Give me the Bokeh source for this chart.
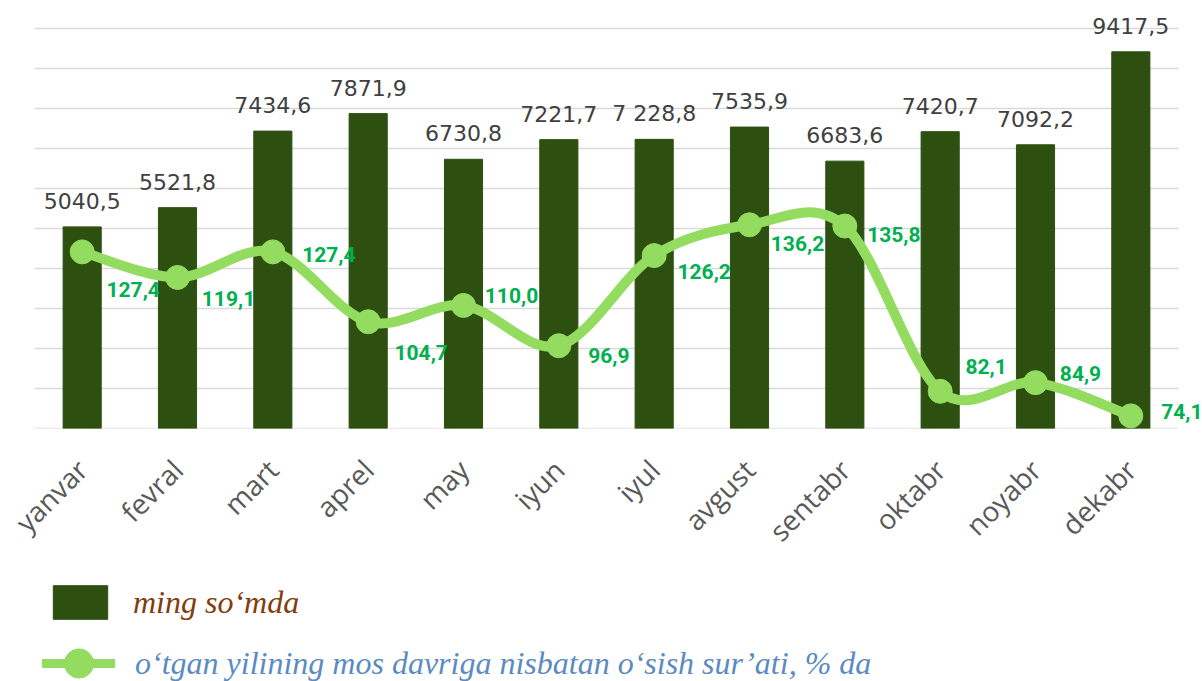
import math
import numpy as np
from bokeh.plotting import figure
from bokeh.layouts import column
from bokeh.core.properties import value
from bokeh.models import (Range1d, FixedTicker, LabelSet, ColumnDataSource,
                          Legend, LegendItem)
from bokeh.embed import file_html
from bokeh.resources import INLINE

# ---------------- data ----------------
months = ["yanvar", "fevral", "mart", "aprel", "may", "iyun",
          "iyul", "avgust", "sentabr", "oktabr", "noyabr", "dekabr"]
amount = [5040.5, 5521.8, 7434.6, 7871.9, 6730.8, 7221.7,
          7228.8, 7535.9, 6683.6, 7420.7, 7092.2, 9417.5]
amount_labels = ["5040,5", "5521,8", "7434,6", "7871,9", "6730,8", "7221,7",
                 "7 228,8", "7535,9", "6683,6", "7420,7", "7092,2", "9417,5"]
growth = [127.4, 119.1, 127.4, 104.7, 110.0, 96.9,
          126.2, 136.2, 135.8, 82.1, 84.9, 74.1]
growth_labels = ["127,4", "119,1", "127,4", "104,7", "110,0", "96,9",
                 "126,2", "136,2", "135,8", "82,1", "84,9", "74,1"]
series_names = ["ming so\u2018mda",
                "o\u2018tgan yilining mos davriga nisbatan o\u2018sish sur\u2019ati, % da"]

# axis extents
Y_MAX, Y_STEP = 10000, 1000
P_MIN, P_MAX = 70, 200
grid_values = list(range(0, Y_MAX + 1, Y_STEP))

# label placement (screen px offsets, style only)
g_dx = [51, 51, 56, 53, 48, 50, 50, 48, 49, 46, 45, 51]
g_dy = [-38, -21, -3, -31, 10, -10, -16, -19, -8, 25, 9, 4]

BAR = "#2D5011"
LINE = "#93DC5F"
GRID = "#D9D9D9"

# layout (px)
W = 1202
FRAME_DATA_H = 400          # height of the 0..Y_MAX area
PAD_TOP = 16                # room above Y_MAX for value labels
SLOT = 1144 / 12            # width of one category
PAD_RIGHT = 24              # room right of the last category
H1, H2 = 568, 113

n = len(months)
x = np.arange(n)
y_top = Y_MAX * (1 + PAD_TOP / FRAME_DATA_H)
p_top = P_MAX + (P_MAX - P_MIN) * PAD_TOP / FRAME_DATA_H

p = figure(width=W, height=H1, output_backend="svg", toolbar_location=None,
           x_range=Range1d(-0.5, n - 0.5 + PAD_RIGHT / SLOT),
           y_range=Range1d(0, y_top),
           min_border_left=34, min_border_right=0, min_border_top=12,
           min_border_bottom=140)
p.outline_line_color = None
p.background_fill_color = "white"
p.extra_y_ranges = {"pct": Range1d(P_MIN, p_top)}

p.xgrid.visible = False
p.ygrid.visible = False
p.yaxis.visible = False

ax = p.xaxis[0]
ax.ticker = FixedTicker(ticks=list(range(n)))
ax.major_label_overrides = {i: m for i, m in enumerate(months)}
ax.major_label_orientation = math.pi / 4
ax.axis_line_color = None
ax.major_tick_line_color = None
ax.minor_tick_line_color = None
ax.major_tick_out = 0
ax.major_label_text_font = "Open Sans"
ax.major_label_text_font_size = "28px"
ax.major_label_text_color = "#595959"
ax.major_label_standoff = 36

# horizontal gridlines spanning the category area only
p.segment(x0=-0.5, x1=n - 0.5, y0=grid_values, y1=grid_values,
          line_color=GRID, line_width=1.6)

src = ColumnDataSource(dict(x=x, amount=amount, alab=amount_labels,
                            growth=growth, glab=growth_labels,
                            dx=g_dx, dy=g_dy))

bars = p.vbar(x="x", top="amount", width=0.4, source=src,
              fill_color=BAR, line_color=BAR)

# smooth line (Catmull-Rom style cubic bezier through the points)
g = np.array(growth, dtype=float)
xf = x.astype(float)
gp = np.r_[g[0], g[:-1]]; gn = np.r_[g[1:], g[-1]]
xp = np.r_[xf[0], xf[:-1]]; xn = np.r_[xf[1:], xf[-1]]
ty = (gn - gp) / 6.0
tx = (xn - xp) / 6.0
bsrc = ColumnDataSource(dict(
    x0=xf[:-1], y0=g[:-1], x1=xf[1:], y1=g[1:],
    cx0=xf[:-1] + tx[:-1], cy0=g[:-1] + ty[:-1],
    cx1=xf[1:] - tx[1:], cy1=g[1:] - ty[1:]))
p.bezier(x0="x0", y0="y0", x1="x1", y1="y1", cx0="cx0", cy0="cy0",
         cx1="cx1", cy1="cy1", source=bsrc, line_color=LINE,
         line_width=10, line_cap="round", y_range_name="pct")
p.scatter(x="x", y="growth", source=src, size=24, marker="circle",
          fill_color=LINE, line_color=LINE, y_range_name="pct")

p.add_layout(LabelSet(x="x", y="amount", text="alab", source=src,
                      text_align="center", text_baseline="alphabetic",
                      y_offset=18, text_font=value("DejaVu Sans"),
                      text_font_size="22px", text_color="#404040"))
p.add_layout(LabelSet(x="x", y="growth", text="glab", source=src,
                      y_range_name="pct", x_offset="dx", y_offset="dy",
                      text_align="center", text_baseline="middle",
                      text_font=value("Roboto"), text_font_style="bold",
                      text_font_size="21px", text_color="#00B050"))

# ---------------- legend strip ----------------
lg = figure(width=W, height=H2, output_backend="svg", toolbar_location=None,
            x_range=Range1d(-40, -30), y_range=Range1d(0, Y_MAX),
            min_border=0)
lg.outline_line_color = None
lg.axis.visible = False
lg.grid.visible = False
# legend key renderers (same series, kept outside this strip's view)
k_bar = lg.vbar(x="x", top="amount", width=0.4, source=src,
                fill_color=BAR, line_color=BAR)
k_line = lg.line(x="x", y="growth", source=src, line_color=LINE,
                 line_width=9, line_cap="round")
k_dot = lg.scatter(x="x", y="growth", source=src, marker="circle",
                   fill_color=LINE, line_color=LINE)

leg1 = Legend(items=[LegendItem(label=series_names[0], renderers=[k_bar])],
              location=(12, 58), glyph_width=68, glyph_height=42,
              label_standoff=19, label_text_font="Liberation Serif",
              label_text_font_style="italic", label_text_font_size="32px",
              label_text_color="#843C0C", border_line_color=None,
              background_fill_alpha=0, padding=0, margin=0)
leg2 = Legend(items=[LegendItem(label=series_names[1], renderers=[k_line, k_dot])],
              location=(8, -26), glyph_width=73, glyph_height=88,
              label_standoff=20, label_text_font="Liberation Serif",
              label_text_font_style="italic", label_text_font_size="32px",
              label_text_color="#5B8BC2", border_line_color=None,
              background_fill_alpha=0, padding=0, margin=0)
lg.add_layout(leg1)
lg.add_layout(leg2)

layout = column(p, lg, spacing=0)

with open("out.html", "w", encoding="utf-8") as f:
    f.write(file_html(layout, INLINE))
